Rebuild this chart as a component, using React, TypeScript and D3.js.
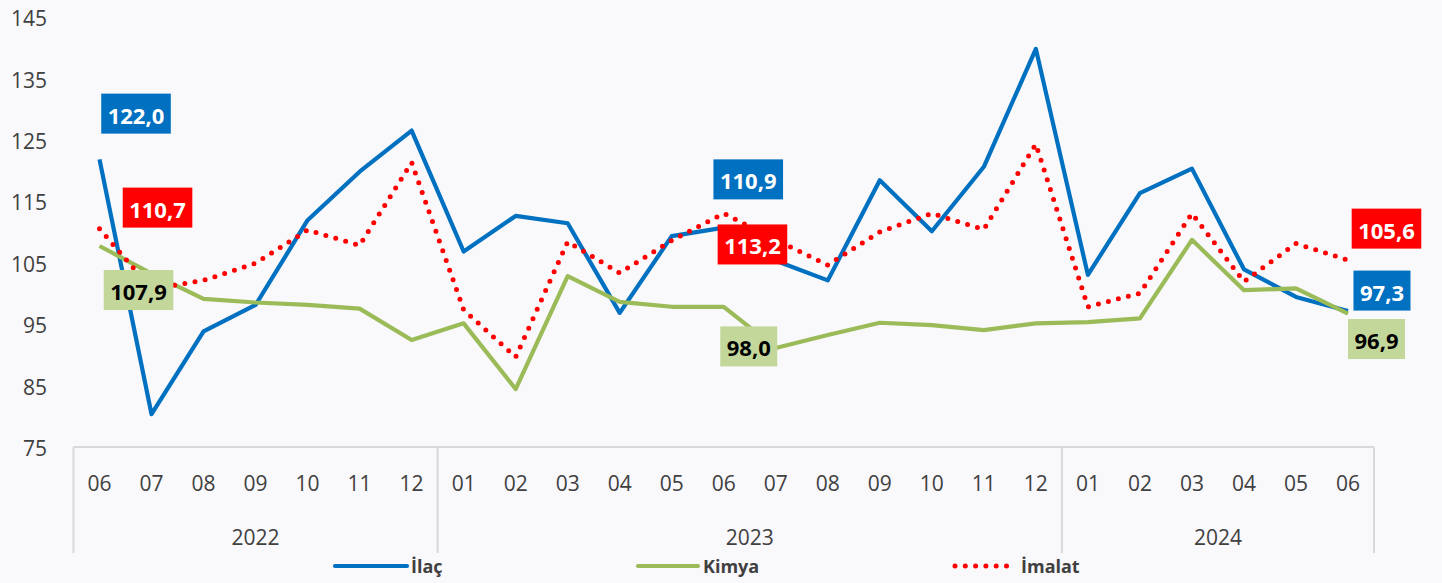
import React, { useEffect, useRef } from "react";
import * as d3 from "d3";

const months = ["06","07","08","09","10","11","12","01","02","03","04","05","06","07","08","09","10","11","12","01","02","03","04","05","06"];
const years = [
  { label: "2022", start: 0, end: 7 },
  { label: "2023", start: 7, end: 19 },
  { label: "2024", start: 19, end: 25 },
];
const yTicks = [75, 85, 95, 105, 115, 125, 135, 145];

const ilac = [122.0, 80.5, 94.0, 98.3, 112.1, 120.0, 126.7, 107.0, 112.8, 111.6, 97.0, 109.5, 110.9, 105.5, 102.3, 118.6, 110.3, 120.8, 140.0, 103.2, 116.5, 120.5, 104.1, 99.6, 97.3];
const kimya = [107.9, 103.4, 99.3, 98.7, 98.3, 97.7, 92.6, 95.3, 84.6, 103.0, 98.8, 98.0, 98.0, 91.3, 93.4, 95.4, 95.0, 94.2, 95.3, 95.5, 96.1, 108.9, 100.7, 101.0, 96.9];
const imalat = [110.7, 100.9, 102.3, 105.1, 110.5, 108.0, 121.5, 97.5, 89.8, 108.6, 103.5, 108.8, 113.2, 108.9, 104.8, 110.2, 113.2, 110.6, 124.5, 98.0, 100.2, 113.2, 102.1, 108.3, 105.6];

const seriesNames = ["İlaç", "Kimya", "İmalat"];
const labelIdx = [0, 12, 24];

export default function App() {
  const ref = useRef<SVGSVGElement>(null);
  useEffect(() => {
    const W = 1442, H = 583;
    const svg = d3.select(ref.current);
    svg.selectAll("*").remove();
    svg.append("rect").attr("width", W).attr("height", H).attr("fill", "#f9f8fb");

    const x = d3.scaleBand<number>().domain(d3.range(months.length)).range([73.5, 1374]).padding(0);
    const cx = (i: number) => (x(i) as number) + x.bandwidth() / 2;
    const y = d3.scaleLinear().domain([75, 145]).range([448, 18.2]);
    const fmt = (v: number) => d3.format(".1f")(v).replace(".", ",");
    const tickFont = "'Open Sans', sans-serif";
    const tickColor = "#404040";

    // y tick labels
    svg.append("g").selectAll("text").data(yTicks).join("text")
      .attr("x", 47).attr("y", (d) => y(d)).attr("text-anchor", "end")
      .attr("dominant-baseline", "central").attr("font-family", tickFont)
      .attr("font-size", 21).attr("fill", tickColor).text((d) => d);

    // axis lines
    const axisColor = "#d9d9d9";
    svg.append("line").attr("x1", 73.5).attr("x2", 1374).attr("y1", 447).attr("y2", 447)
      .attr("stroke", axisColor).attr("stroke-width", 2);
    const dividers = [0, 7, 19, 25].map((i) => (i < months.length ? (x(i) as number) : 1374));
    svg.append("g").selectAll("line").data(dividers).join("line")
      .attr("x1", (d) => d).attr("x2", (d) => d).attr("y1", 447).attr("y2", 553)
      .attr("stroke", axisColor).attr("stroke-width", 2);

    svg.append("g").selectAll("text").data(months).join("text")
      .attr("x", (_, i) => cx(i)).attr("y", 483).attr("text-anchor", "middle")
      .attr("dominant-baseline", "central").attr("font-family", tickFont)
      .attr("font-size", 21).attr("fill", tickColor).text((d) => d);

    svg.append("g").selectAll("text").data(years).join("text")
      .attr("x", (d) => ((x(d.start) as number) + (d.end < months.length ? (x(d.end) as number) : 1374)) / 2)
      .attr("y", 537).attr("text-anchor", "middle").attr("dominant-baseline", "central")
      .attr("font-family", tickFont).attr("font-size", 21).attr("fill", tickColor).text((d) => d.label);

    const line = d3.line<number>().x((_, i) => cx(i)).y((d) => y(d));
    const series = [
      { data: ilac, color: "#0070c0", dash: null, width: 4.2 },
      { data: kimya, color: "#9bbb59", dash: null, width: 4.2 },
      { data: imalat, color: "#ff0000", dash: "0 10.3", width: 5 },
    ];
    series.forEach((s) => {
      const p = svg.append("path").attr("d", line(s.data)).attr("fill", "none")
        .attr("stroke", s.color).attr("stroke-width", s.width).attr("stroke-linejoin", "round");
      if (s.dash) p.attr("stroke-dasharray", s.dash).attr("stroke-linecap", "round");
    });

    // data labels
    const labelStyle = [
      { fill: "#0070c0", text: "#ffffff" },
      { fill: "#c4d79b", text: "#000000" },
      { fill: "#ff0000", text: "#ffffff" },
    ];
    const offsets: Record<string, [number, number]> = {
      "0-0": [36.5, -45.8], "2-0": [58, -21.2], "1-0": [39, 44],
      "0-12": [24.5, -48.2], "2-12": [28.7, 31], "1-12": [25, 39.6],
      "2-24": [38.5, -31.5], "0-24": [34, -20.5], "1-24": [28.5, 25.5],
    };
    const lg = svg.append("g");
    [0, 2, 1].forEach((si) => {
      labelIdx.forEach((idx) => {
        const v = series[si].data[idx];
        const [dx, dy] = offsets[`${si}-${idx}`];
        const px = cx(idx) + dx, py = y(v) + dy;
        const g = lg.append("g");
        const rect = g.append("rect").attr("fill", labelStyle[si].fill);
        const t = g.append("text").attr("x", px).attr("y", py + 1).attr("text-anchor", "middle")
          .attr("dominant-baseline", "central").attr("font-family", tickFont)
          .attr("font-weight", 700).attr("font-size", 22).attr("fill", labelStyle[si].text).text(fmt(v));
        const tw = (t.node() as SVGTextElement).getComputedTextLength();
        const bw = tw + 13;
        rect.attr("x", px - bw / 2).attr("y", py - 20).attr("width", bw).attr("height", 40);
      });
    });

    // legend
    const legend = [
      { x1: 335, x2: 407, tx: 411 },
      { x1: 638, x2: 698, tx: 703 },
      { x1: 955, x2: 1015, tx: 1021 },
    ];
    const lgd = svg.append("g");
    legend.forEach((l, i) => {
      const s = series[i];
      const ln = lgd.append("line").attr("x1", l.x1).attr("x2", l.x2).attr("y1", 566).attr("y2", 566)
        .attr("stroke", s.color).attr("stroke-width", s.width).attr("stroke-linecap", "round");
      if (s.dash) ln.attr("stroke-dasharray", s.dash);
      lgd.append("text").attr("x", l.tx).attr("y", 566).attr("dominant-baseline", "central")
        .attr("font-family", tickFont).attr("font-weight", 700).attr("font-size", 18)
        .attr("fill", "#404040").text(seriesNames[i]);
    });
  }, []);
  return (
    <svg ref={ref} width={1442} height={583}
      style={{ position: "absolute", left: 0, top: 0, display: "block" }} />
  );
}
